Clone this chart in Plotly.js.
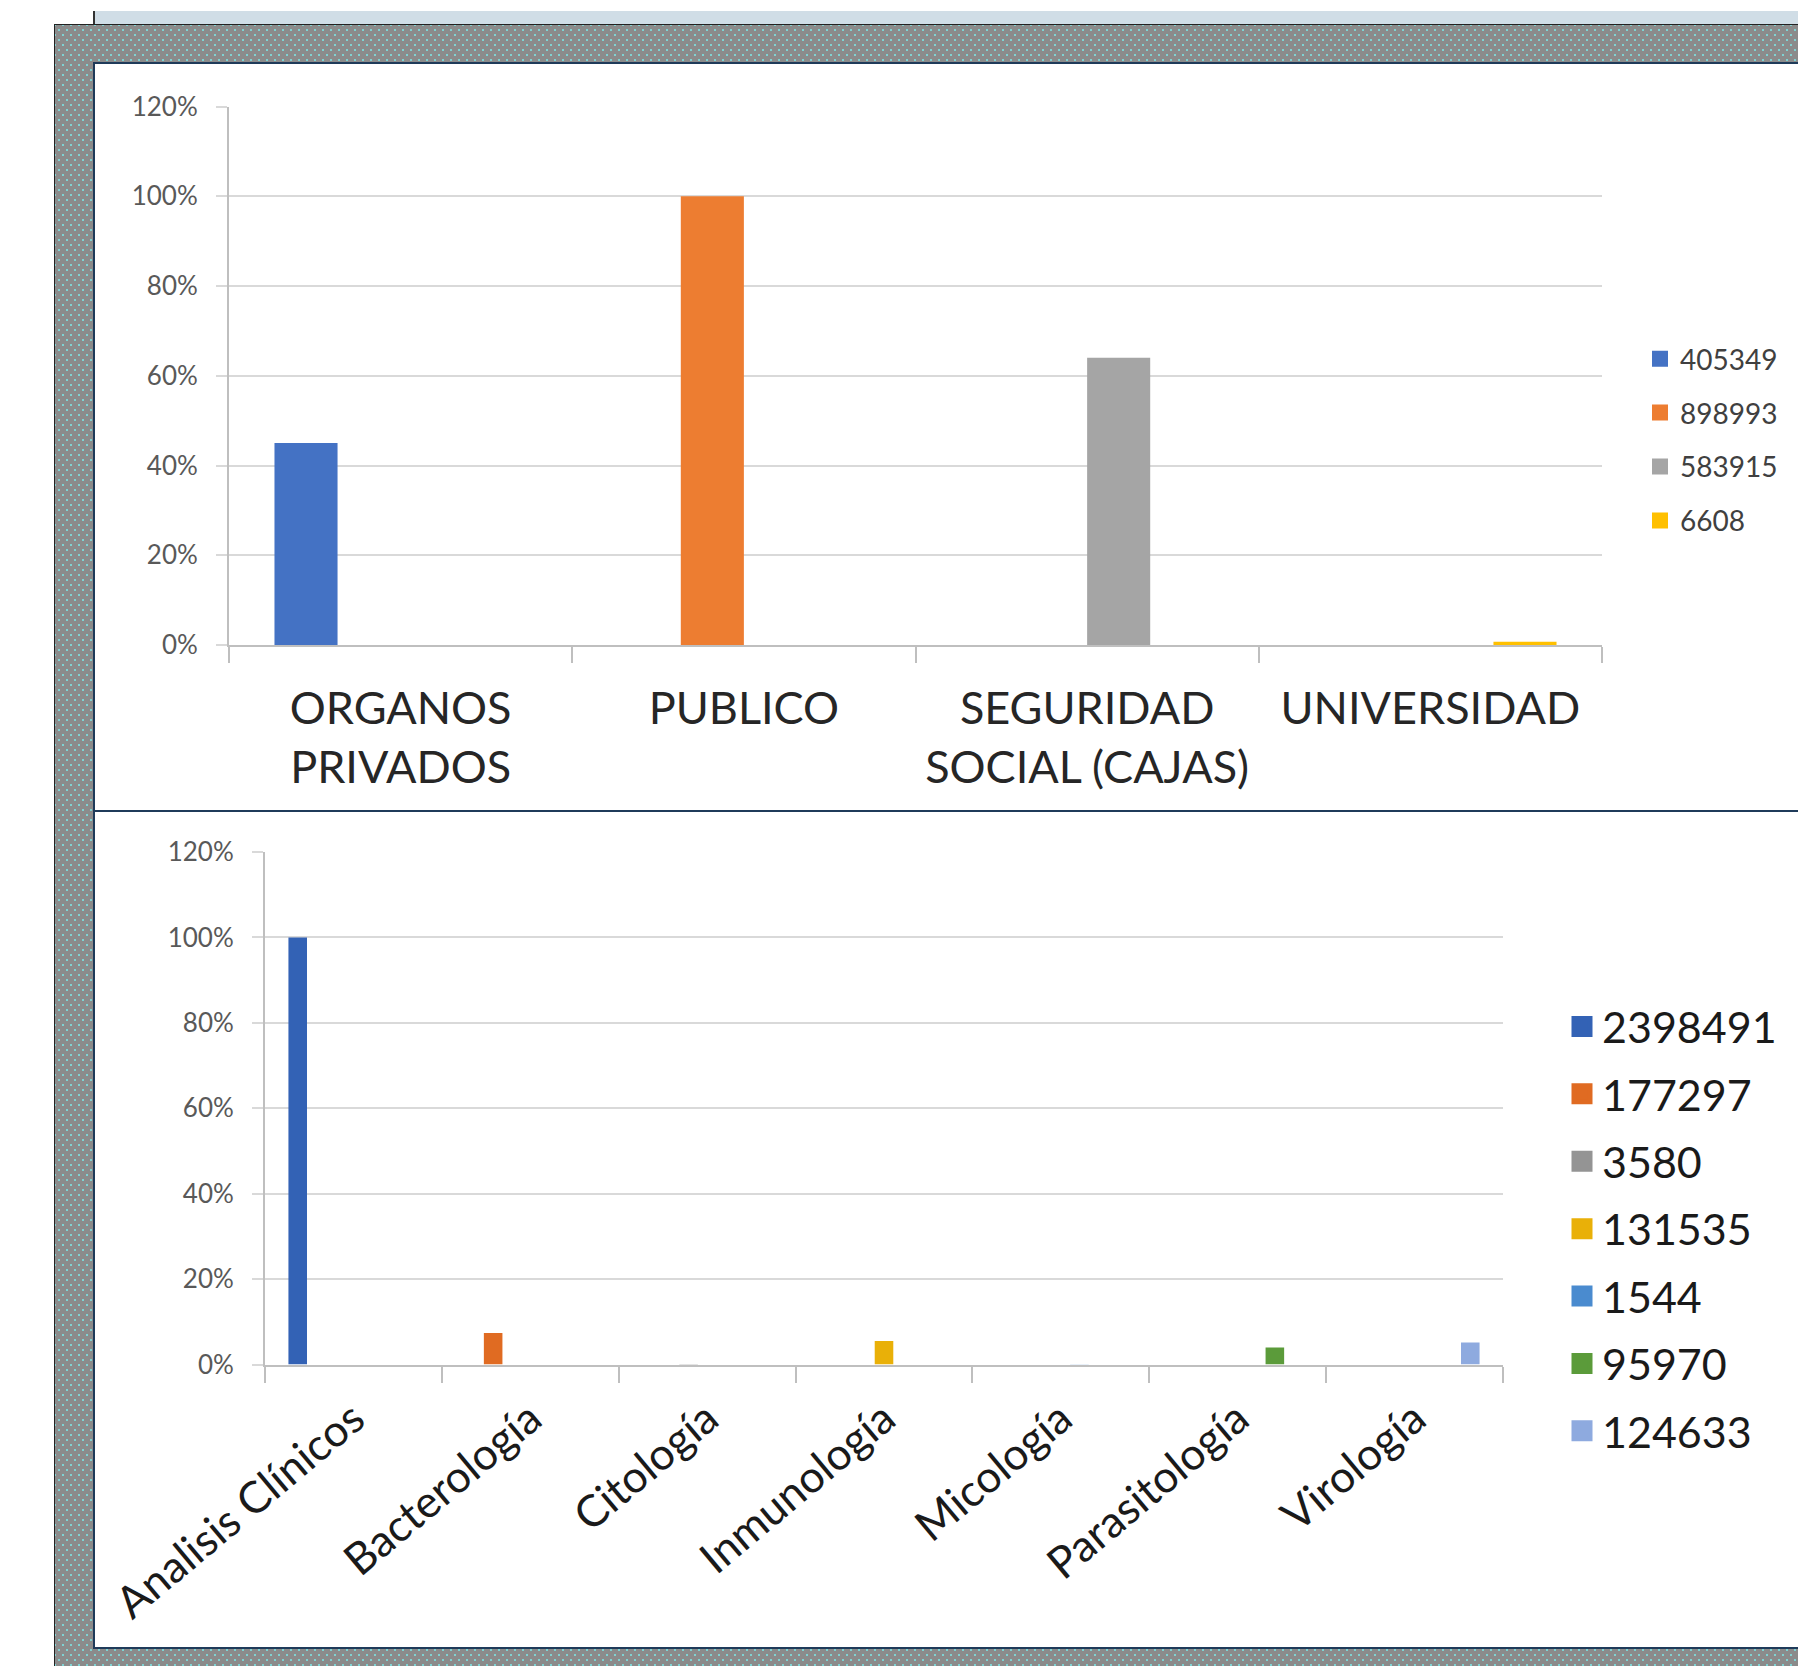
<!DOCTYPE html>
<html>
<head>
<meta charset="utf-8">
<script src="https://cdn.plot.ly/plotly-3.0.1.min.js"></script>
<style>
  html, body { margin:0; padding:0; background:#ffffff; }
  #wrap { position:relative; width:1798px; height:1666px; overflow:hidden; }
  .band { position:absolute; left:93px; top:11px; width:1705px; height:14px; background:#d0dde6; border-left:2px solid #333; box-sizing:border-box; }
  .frame { position:absolute; left:54px; top:24px; width:1744px; height:1642px; box-sizing:border-box;
           border-top:1px solid #222; border-left:1px solid #222;
           background-color:#8b8b8b;
           background-image: radial-gradient(circle, #7fd2d2 1px, rgba(0,0,0,0) 1.4px),
                             radial-gradient(circle, #7fd2d2 1px, rgba(0,0,0,0) 1.4px);
           background-size: 8px 10px, 8px 10px;
           background-position: 0 0, 4px 5px; }
  .panel { position:absolute; left:93px; top:62px; width:1705px; height:1587px; background:#ffffff; box-sizing:border-box;
           border-top:2px solid #1f3b5a; border-left:2px solid #1f3b5a; border-bottom:2px solid #1f3b5a; }
  .sep { position:absolute; left:93px; top:810px; width:1705px; height:2px; background:#1f3b5a; }
  #chart { position:absolute; left:0; top:0; width:1798px; height:1666px; }
</style>
</head>
<body>
<div id="wrap">
  <div class="band"></div>
  <div class="frame"></div>
  <div class="panel"></div>
  <div class="sep"></div>
  <div id="chart"></div>
</div>
<script>
// ---- Top chart data ----
const topCategories = ['ORGANOS<br>PRIVADOS', 'PUBLICO', 'SEGURIDAD<br>SOCIAL (CAJAS)', 'UNIVERSIDAD'];
const topSeriesNames = ['405349', '898993', '583915', '6608'];
const topValues = [0.45, 1.00, 0.64, 0.007];
const topColors = ['#4472c4', '#ed7d31', '#a5a5a5', '#ffc000'];

// ---- Bottom chart data ----
const bottomCategories = ['Analisis Clínicos', 'Bacterología', 'Citología', 'Inmunología', 'Micología', 'Parasitología', 'Virología'];
const bottomSeriesNames = ['2398491', '177297', '3580', '131535', '1544', '95970', '124633'];
const bottomValues = [1.00, 0.074, 0.0015, 0.055, 0.0006, 0.04, 0.052];
const bottomColors = ['#3362b5', '#e06b22', '#949494', '#e9b008', '#4a8bcf', '#5b9b3a', '#8eaadf'];

const W = 1798, H = 1666;
const px = v => v / W;
const py = v => (H - v) / H;

const traces = [];
// bars
topSeriesNames.forEach((name, i) => {
  traces.push({
    type: 'bar', name: name, x: topCategories,
    y: topCategories.map((c, j) => j === i ? topValues[i] : null),
    marker: { color: topColors[i] },
    xaxis: 'x', yaxis: 'y', showlegend: false, hoverinfo: 'skip'
  });
});
bottomSeriesNames.forEach((name, i) => {
  traces.push({
    type: 'bar', name: name, x: bottomCategories,
    y: bottomCategories.map((c, j) => j === i ? bottomValues[i] : null),
    marker: { color: bottomColors[i] },
    xaxis: 'x2', yaxis: 'y2', showlegend: false, hoverinfo: 'skip'
  });
});
// legend entries (square keys), one per series
topSeriesNames.forEach((name, i) => {
  traces.push({
    type: 'scatter', mode: 'markers', name: name, x: [null], y: [null],
    marker: { symbol: 'square', size: 12, color: topColors[i], line: { color: topColors[i], width: 4 } },
    xaxis: 'x', yaxis: 'y', legend: 'legend', legendgroup: 't' + i, hoverinfo: 'skip'
  });
});
bottomSeriesNames.forEach((name, i) => {
  traces.push({
    type: 'scatter', mode: 'markers', name: name, x: [null], y: [null],
    marker: { symbol: 'square', size: 16, color: bottomColors[i], line: { color: bottomColors[i], width: 5 } },
    xaxis: 'x2', yaxis: 'y2', legend: 'legend2', legendgroup: 'b' + i, hoverinfo: 'skip'
  });
});

const FONT = 'Lato, "Open Sans", sans-serif';
const gridC = '#d9d9d9', axC = '#bfbfbf';

const yCommon = {
  range: [0, 1.2], dtick: 0.2, tick0: 0, tickformat: '.0%',
  showgrid: true, gridcolor: gridC, gridwidth: 2,
  ticks: 'outside', ticklen: 11, tickcolor: gridC, tickwidth: 2,
  showline: true, linecolor: axC, linewidth: 2, zeroline: false,
  tickfont: { family: FONT, size: 26, color: '#595959' },
  ticklabelstandoff: 13, fixedrange: true
};
const xCommon = {
  type: 'category', tickson: 'boundaries', ticks: 'outside', ticklen: 16,
  tickcolor: axC, tickwidth: 2, showline: true, linecolor: axC, linewidth: 2,
  showgrid: false, zeroline: false, fixedrange: true
};

const layout = {
  width: W, height: H,
  margin: { l: 0, r: 0, t: 0, b: 0 },
  paper_bgcolor: 'rgba(0,0,0,0)', plot_bgcolor: 'rgba(0,0,0,0)',
  barmode: 'group', bargap: 0.265, bargroupgap: 0,
  font: { family: FONT },
  xaxis: Object.assign({}, xCommon, {
    domain: [px(229), px(1602)], anchor: 'y',
    tickfont: { family: FONT, size: 45, color: '#262626' },
    ticklabelstandoff: 23
  }),
  yaxis: Object.assign({}, yCommon, {
    domain: [py(645), py(106.6)], anchor: 'x'
  }),
  xaxis2: Object.assign({}, xCommon, {
    domain: [px(265), px(1503)], anchor: 'y2', tickangle: -40,
    tickfont: { family: FONT, size: 44, color: '#1a1a1a' },
    ticklabelstandoff: 9
  }),
  yaxis2: Object.assign({}, yCommon, {
    domain: [py(1364.6), py(852)], anchor: 'x2'
  }),
  legend: {
    x: px(1640), xanchor: 'left', y: py(334), yanchor: 'top',
    font: { family: FONT, size: 28, color: '#404040' },
    tracegroupgap: 14.5, bgcolor: 'rgba(0,0,0,0)', borderwidth: 0
  },
  legend2: {
    x: px(1562), xanchor: 'left', y: py(992), yanchor: 'top',
    font: { family: FONT, size: 43, color: '#1a1a1a' },
    tracegroupgap: 8.5, bgcolor: 'rgba(0,0,0,0)', borderwidth: 0
  },
  showlegend: true
};

Plotly.newPlot('chart', traces, layout, { displayModeBar: false, staticPlot: true });
</script>
</body>
</html>
